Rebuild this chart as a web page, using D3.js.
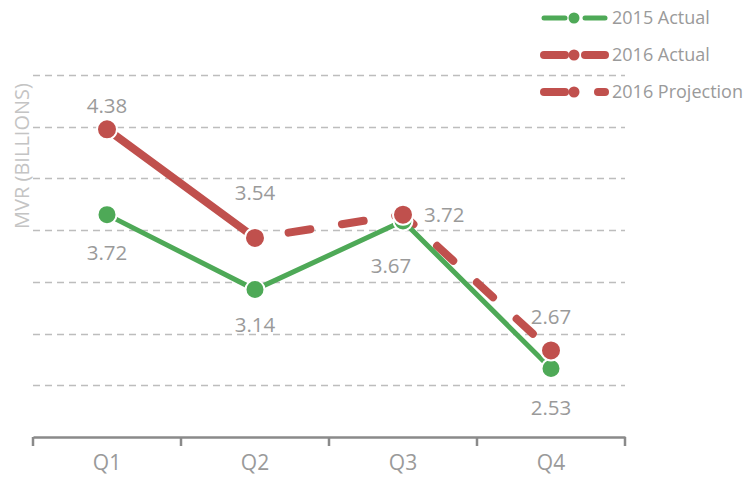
<!DOCTYPE html>
<html>
<head>
<meta charset="utf-8">
<script src="https://cdn.jsdelivr.net/npm/d3@7"></script>
<style>
  body { margin: 0; background: #fff; }
  text { font-family: "Open Sans", "Noto Sans", sans-serif; }
</style>
</head>
<body>
<div id="chart"></div>
<script>
// chart values
var quarters = ["Q1", "Q2", "Q3", "Q4"];
var actual2015 = [3.72, 3.14, 3.67, 2.53];
var actual2016 = [4.38, 3.54, null, null];
var projection2016 = [null, 3.54, 3.72, 2.67];
var gridTicks = [2.4, 2.8, 3.2, 3.6, 4.0, 4.4, 4.8];

var width = 747, height = 483;
var margin = {left: 33, right: 122, top: 75, bottom: 46};

var svg = d3.select("#chart").append("svg")
    .attr("width", width).attr("height", height);

var x = d3.scaleBand().domain(quarters).range([margin.left, width - margin.right]);
var y = d3.scaleLinear().domain([2, 4.8]).range([height - margin.bottom, margin.top]);
var cx = function(q){ return x(q) + x.bandwidth() / 2; };

var green = "#4ea957", red = "#c0504d", grey = "#9a9a9a";

// grid
svg.append("g").selectAll("line").data(gridTicks).enter().append("line")
    .attr("x1", margin.left).attr("x2", width - margin.right)
    .attr("y1", function(d){ return Math.round(y(d)) + 0.5; })
    .attr("y2", function(d){ return Math.round(y(d)) + 0.5; })
    .attr("stroke", "#bdbdbd").attr("stroke-width", 1.3)
    .attr("stroke-dasharray", "7,5");

// x axis
var xAxis = d3.axisBottom(x).tickSize(0).tickPadding(18);
var gx = svg.append("g")
    .attr("transform", "translate(0," + y(2) + ")")
    .call(xAxis);
gx.select(".domain").attr("stroke", "#8a8a8a").attr("stroke-width", 2.5);
gx.selectAll("text").attr("fill", grey).attr("font-size", 21)
    .style("font-family", "'Open Sans', sans-serif");
// band edge ticks
var edges = quarters.map(function(q){ return x(q); }).concat([width - margin.right]);
gx.selectAll(".edge").data(edges).enter().append("line")
    .attr("class", "edge")
    .attr("x1", function(d){ return d; }).attr("x2", function(d){ return d; })
    .attr("y1", 0).attr("y2", 9)
    .attr("stroke", "#8a8a8a").attr("stroke-width", 2.5);

// y label
svg.append("text")
    .attr("transform", "translate(29,156) rotate(-90)")
    .attr("text-anchor", "middle")
    .attr("fill", "#c4c4c4").attr("font-size", 20)
    .text("MVR (BILLIONS)");

var line = d3.line()
    .defined(function(d){ return d.v != null; })
    .x(function(d){ return cx(d.q); })
    .y(function(d){ return y(d.v); });
var pts = function(arr){ return arr.map(function(v, i){ return {q: quarters[i], v: v}; }); };

svg.append("path").datum(pts(actual2016)).attr("d", line)
    .attr("fill", "none").attr("stroke", red).attr("stroke-width", 8).attr("stroke-linecap", "round");
svg.append("path").datum(pts(projection2016)).attr("d", line)
    .attr("fill", "none").attr("stroke", red).attr("stroke-width", 8)
    .attr("stroke-linecap", "round").attr("stroke-dasharray", "22,32")
    .attr("stroke-dashoffset", 20);
svg.append("path").datum(pts(actual2015)).attr("d", line)
    .attr("fill", "none").attr("stroke", green).attr("stroke-width", 5);

var dots = function(arr, color, r){
    svg.append("g").selectAll("circle")
        .data(pts(arr).filter(function(d){ return d.v != null; }))
        .enter().append("circle")
        .attr("cx", function(d){ return cx(d.q); })
        .attr("cy", function(d){ return y(d.v); })
        .attr("r", r).attr("fill", color)
        .attr("stroke", "#fff").attr("stroke-width", 2);
};
dots(actual2015, green, 9.5);
var red2016 = actual2016.map(function(v, i){ return v != null ? v : projection2016[i]; });
dots(red2016, red, 10);

// value labels (offsets in px relative to point)
var labelPos2015 = [[0, 38], [0, 35], [-12, 45], [0, 39]];
var labelPos2016 = [[0, -23], [0, -45], [21, 0], [0, -34]];
var labels = function(arr, pos){
    svg.append("g").selectAll("text")
        .data(arr.map(function(v, i){ return {q: quarters[i], v: v, p: pos[i]}; }))
        .enter().append("text")
        .attr("x", function(d){ return cx(d.q) + d.p[0]; })
        .attr("y", function(d){ return y(d.v) + d.p[1]; })
        .attr("dy", "0.35em")
        .attr("text-anchor", function(d){ return d.p[0] > 0 ? "start" : "middle"; })
        .attr("fill", grey).attr("font-size", 20.5)
        .text(function(d){ return d3.format(".2f")(d.v); });
};
labels(actual2015, labelPos2015);
labels(red2016, labelPos2016);

// legend
var legendItems = [
    {name: "2015 Actual", color: green, w: 5, dash: false},
    {name: "2016 Actual", color: red, w: 8, dash: false},
    {name: "2016 Projection", color: red, w: 8, dash: true}
];
var lg = svg.append("g").selectAll("g").data(legendItems).enter().append("g")
    .attr("transform", function(d, i){ return "translate(542," + (18 + i * 37) + ")"; });
lg.append("line")
    .attr("x1", 2).attr("x2", 23)
    .attr("stroke", function(d){ return d.color; })
    .attr("stroke-width", function(d){ return d.w; })
    .attr("stroke-linecap", "round");
lg.append("line")
    .attr("x1", function(d){ return d.dash ? 56 : 43; }).attr("x2", 63)
    .attr("stroke", function(d){ return d.color; })
    .attr("stroke-width", function(d){ return d.w; })
    .attr("stroke-linecap", "round");
lg.append("circle").attr("cx", 32).attr("r", 5.5)
    .attr("fill", function(d){ return d.color; });
lg.append("text").attr("x", 70).attr("dy", "0.35em")
    .attr("fill", grey).attr("font-size", 18)
    .text(function(d){ return d.name; });
</script>
</body>
</html>
